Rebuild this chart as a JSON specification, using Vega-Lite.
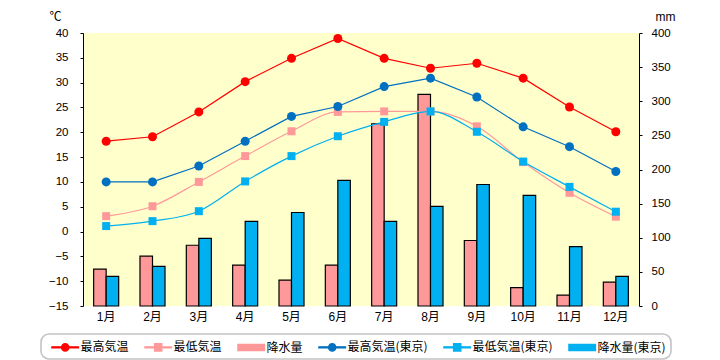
{
  "$schema": "https://vega.github.io/schema/vega-lite/v6.json",
  "width": 556,
  "height": 273,
  "autosize": {"type": "none"},
  "padding": {"left": 83, "top": 33, "right": 81, "bottom": 54},
  "background": "white",
  "config": {
    "view": {"fill": "#FFFFCC", "stroke": null},
    "font": "Noto Sans CJK JP",
    "axis": {"grid": false, "domainColor": "black", "tickColor": "black", "labelColor": "black", "titleColor": "black", "labelFont": "Liberation Sans, Noto Sans CJK JP", "labelFontSize": 11.5, "titleFontWeight": "normal"}
  },
  "datasets": {
    "temp": [
      {"month": "1月", "series": "最高気温", "value": 18.2},
      {"month": "2月", "series": "最高気温", "value": 19.1},
      {"month": "3月", "series": "最高気温", "value": 24.1},
      {"month": "4月", "series": "最高気温", "value": 30.2},
      {"month": "5月", "series": "最高気温", "value": 34.9},
      {"month": "6月", "series": "最高気温", "value": 38.9},
      {"month": "7月", "series": "最高気温", "value": 34.9},
      {"month": "8月", "series": "最高気温", "value": 32.9},
      {"month": "9月", "series": "最高気温", "value": 33.9},
      {"month": "10月", "series": "最高気温", "value": 30.9},
      {"month": "11月", "series": "最高気温", "value": 25.1},
      {"month": "12月", "series": "最高気温", "value": 20.1},
      {"month": "1月", "series": "最低気温", "value": 3.1},
      {"month": "2月", "series": "最低気温", "value": 5.1},
      {"month": "3月", "series": "最低気温", "value": 10.0},
      {"month": "4月", "series": "最低気温", "value": 15.2},
      {"month": "5月", "series": "最低気温", "value": 20.2},
      {"month": "6月", "series": "最低気温", "value": 24.1},
      {"month": "7月", "series": "最低気温", "value": 24.2},
      {"month": "8月", "series": "最低気温", "value": 24.2},
      {"month": "9月", "series": "最低気温", "value": 21.2},
      {"month": "10月", "series": "最低気温", "value": 14.0},
      {"month": "11月", "series": "最低気温", "value": 7.8},
      {"month": "12月", "series": "最低気温", "value": 3.0},
      {"month": "1月", "series": "最高気温(東京)", "value": 10.0},
      {"month": "2月", "series": "最高気温(東京)", "value": 10.0},
      {"month": "3月", "series": "最高気温(東京)", "value": 13.2},
      {"month": "4月", "series": "最高気温(東京)", "value": 18.2},
      {"month": "5月", "series": "最高気温(東京)", "value": 23.2},
      {"month": "6月", "series": "最高気温(東京)", "value": 25.2},
      {"month": "7月", "series": "最高気温(東京)", "value": 29.2},
      {"month": "8月", "series": "最高気温(東京)", "value": 30.9},
      {"month": "9月", "series": "最高気温(東京)", "value": 27.1},
      {"month": "10月", "series": "最高気温(東京)", "value": 21.1},
      {"month": "11月", "series": "最高気温(東京)", "value": 17.1},
      {"month": "12月", "series": "最高気温(東京)", "value": 12.1},
      {"month": "1月", "series": "最低気温(東京)", "value": 1.1},
      {"month": "2月", "series": "最低気温(東京)", "value": 2.1},
      {"month": "3月", "series": "最低気温(東京)", "value": 4.1},
      {"month": "4月", "series": "最低気温(東京)", "value": 10.1},
      {"month": "5月", "series": "最低気温(東京)", "value": 15.2},
      {"month": "6月", "series": "最低気温(東京)", "value": 19.2},
      {"month": "7月", "series": "最低気温(東京)", "value": 22.1},
      {"month": "8月", "series": "最低気温(東京)", "value": 24.2},
      {"month": "9月", "series": "最低気温(東京)", "value": 20.1},
      {"month": "10月", "series": "最低気温(東京)", "value": 14.1},
      {"month": "11月", "series": "最低気温(東京)", "value": 9.0},
      {"month": "12月", "series": "最低気温(東京)", "value": 4.0}
    ],
    "rain": [
      {"month": "1月", "series": "降水量", "value": 54},
      {"month": "2月", "series": "降水量", "value": 73},
      {"month": "3月", "series": "降水量", "value": 89},
      {"month": "4月", "series": "降水量", "value": 60},
      {"month": "5月", "series": "降水量", "value": 38},
      {"month": "6月", "series": "降水量", "value": 60},
      {"month": "7月", "series": "降水量", "value": 267},
      {"month": "8月", "series": "降水量", "value": 310},
      {"month": "9月", "series": "降水量", "value": 96},
      {"month": "10月", "series": "降水量", "value": 27},
      {"month": "11月", "series": "降水量", "value": 16},
      {"month": "12月", "series": "降水量", "value": 35},
      {"month": "1月", "series": "降水量(東京)", "value": 43.5},
      {"month": "2月", "series": "降水量(東京)", "value": 58},
      {"month": "3月", "series": "降水量(東京)", "value": 99},
      {"month": "4月", "series": "降水量(東京)", "value": 124},
      {"month": "5月", "series": "降水量(東京)", "value": 137},
      {"month": "6月", "series": "降水量(東京)", "value": 184},
      {"month": "7月", "series": "降水量(東京)", "value": 124},
      {"month": "8月", "series": "降水量(東京)", "value": 146},
      {"month": "9月", "series": "降水量(東京)", "value": 178},
      {"month": "10月", "series": "降水量(東京)", "value": 162},
      {"month": "11月", "series": "降水量(東京)", "value": 87},
      {"month": "12月", "series": "降水量(東京)", "value": 43.5}
    ]
  },
  "layer": [
    {
      "data": {"name": "rain"},
      "mark": {"type": "bar", "stroke": "black", "strokeWidth": 1.2},
      "encoding": {
        "x": {"field": "month", "type": "nominal", "sort": ["1月","2月","3月","4月","5月","6月","7月","8月","9月","10月","11月","12月"], "scale": {"type": "band", "paddingInner": 0.46, "paddingOuter": 0.23}, "axis": {"title": null, "domain": false, "ticks": false, "labelAngle": 0, "labelPadding": 5, "labelFontSize": 12}},
        "xOffset": {"field": "series", "type": "nominal", "scale": {"domain": ["降水量", "降水量(東京)"], "paddingInner": 0, "paddingOuter": 0}},
        "y": {"field": "value", "type": "quantitative", "scale": {"domain": [0, 400], "nice": false, "zero": true}, "axis": {"orient": "right", "values": [0,50,100,150,200,250,300,350,400], "title": "mm", "titleAngle": 0, "titleX": 26, "titleY": -17, "titleAlign": "center", "titleBaseline": "middle", "titleFontSize": 12, "titleFont": "Liberation Sans", "tickSize": 3, "labelPadding": 9}},
        "color": {"field": "series", "type": "nominal", "scale": {"domain": ["最高気温", "最低気温", "降水量", "最高気温(東京)", "最低気温(東京)", "降水量(東京)"], "range": ["#FF0000", "#FF9999", "#FF9999", "#0070C0", "#00B0F0", "#00B0F0"]},
          "legend": {
            "orient": "none", "legendX": -42, "legendY": 301, "direction": "horizontal", "title": null,
            "symbolSize": 196, "labelFontSize": 12, "labelFont": "Noto Sans CJK JP", "labelColor": "black", "labelOffset": 18.5,
            "columnPadding": 10, "padding": 5, "strokeColor": "#C4C4C4", "cornerRadius": 8, "fillColor": "white",
            "encode": {
              "legend": {"update": {"strokeWidth": {"value": 1.6}}},
              "symbols": {"update": {
                "shape": {"signal": "indexof(datum.value,'降水量') === 0 ? 'M-0.3,-0.45H3.5V0.45H-0.3Z' : (indexof(datum.value,'最高') === 0 ? 'M-0.3,-0.075H3.5V0.075H-0.3Z M1.08,0A0.52,0.52 0 1,1 2.12,0A0.52,0.52 0 1,1 1.08,0Z' : 'M-0.3,-0.075H3.5V0.075H-0.3Z M1.08,-0.52H2.12V0.52H1.08Z')"},
                "fill": {"signal": "scale('color', datum.value)"},
                "stroke": {"signal": "indexof(datum.value,'降水量') === 0 ? 'black' : 'transparent'"},
                "strokeWidth": {"value": 1.3},
                "opacity": {"value": 1},
                "fillOpacity": {"value": 1}
              }}
            }
          }
        }
      }
    },
    {
      "data": {"name": "temp"},
      "encoding": {
        "x": {"field": "month", "type": "nominal", "sort": ["1月","2月","3月","4月","5月","6月","7月","8月","9月","10月","11月","12月"], "scale": {"type": "band", "paddingInner": 0.46, "paddingOuter": 0.23}},
        "y": {"field": "value", "type": "quantitative", "scale": {"domain": [-15, 40], "nice": false, "zero": false}, "axis": {"orient": "left", "values": [-15,-10,-5,0,5,10,15,20,25,30,35,40], "title": "℃", "titleAngle": 0, "titleX": -28, "titleY": -17, "titleAlign": "center", "titleBaseline": "middle", "titleFontSize": 12, "tickSize": 3, "labelPadding": 12}},
        "color": {"field": "series", "type": "nominal", "scale": {"domain": ["最高気温", "最低気温", "降水量", "最高気温(東京)", "最低気温(東京)", "降水量(東京)"], "range": ["#FF0000", "#FF9999", "#FF9999", "#0070C0", "#00B0F0", "#00B0F0"]},
          "legend": {
            "orient": "none", "legendX": -42, "legendY": 301, "direction": "horizontal", "title": null,
            "symbolSize": 196, "labelFontSize": 12, "labelFont": "Noto Sans CJK JP", "labelColor": "black", "labelOffset": 18.5,
            "columnPadding": 10, "padding": 5, "strokeColor": "#C4C4C4", "cornerRadius": 8, "fillColor": "white",
            "encode": {
              "legend": {"update": {"strokeWidth": {"value": 1.6}}},
              "symbols": {"update": {
                "shape": {"signal": "indexof(datum.value,'降水量') === 0 ? 'M-0.3,-0.45H3.5V0.45H-0.3Z' : (indexof(datum.value,'最高') === 0 ? 'M-0.3,-0.075H3.5V0.075H-0.3Z M1.08,0A0.52,0.52 0 1,1 2.12,0A0.52,0.52 0 1,1 1.08,0Z' : 'M-0.3,-0.075H3.5V0.075H-0.3Z M1.08,-0.52H2.12V0.52H1.08Z')"},
                "fill": {"signal": "scale('color', datum.value)"},
                "stroke": {"signal": "indexof(datum.value,'降水量') === 0 ? 'black' : 'transparent'"},
                "strokeWidth": {"value": 1.3},
                "opacity": {"value": 1},
                "fillOpacity": {"value": 1}
              }}
            }
          }
        }
      },
      "layer": [
        {
          "data": {"values": [{}]},
          "mark": {"type": "rule", "color": "black", "strokeWidth": 1},
          "encoding": {"x": null, "color": null, "y": {"datum": 0, "type": "quantitative"}}
        },
        {
          "transform": [{"filter": "indexof(datum.series, '最高') === 0"}],
          "mark": {"type": "line", "strokeWidth": 1.2, "interpolate": "linear"}
        },
        {
          "transform": [{"filter": "indexof(datum.series, '最低') === 0"}],
          "mark": {"type": "line", "strokeWidth": 1.2, "interpolate": "monotone"}
        },
        {
          "mark": {"type": "point", "filled": true, "opacity": 1},
          "encoding": {
            "shape": {"field": "series", "type": "nominal", "scale": {"domain": ["最高気温", "最低気温", "最高気温(東京)", "最低気温(東京)"], "range": ["circle", "square", "circle", "square"]}, "legend": null},
            "size": {"condition": {"test": "indexof(datum.series, '最高') === 0", "value": 81}, "value": 64}
          }
        }
      ]
    }
  ],
  "resolve": {"scale": {"y": "independent"}}
}
